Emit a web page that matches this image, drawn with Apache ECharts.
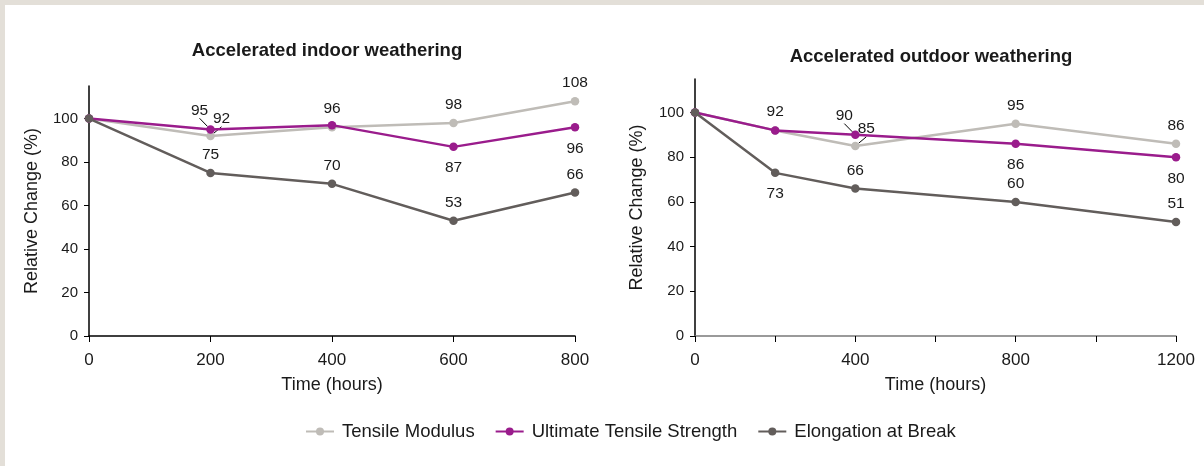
<!DOCTYPE html>
<html>
<head>
<meta charset="utf-8">
<script src="https://cdn.jsdelivr.net/npm/echarts@6/dist/echarts.min.js"></script>
<style>
html,body{margin:0;padding:0;}
#c{width:1204px;height:466px;
background:linear-gradient(#e3dfd8,#e3dfd8) top left/100% 5px no-repeat,linear-gradient(#e3dfd8,#e3dfd8) top left/5px 100% no-repeat,#ffffff;}
</style>
</head>
<body>
<div id="c"></div>
<script>
// ---- data ----
const seriesNames = ['Tensile Modulus', 'Ultimate Tensile Strength', 'Elongation at Break'];
const indoorHours = [0, 200, 400, 600, 800];
const indoorModulus = [100, 92, 96, 98, 108];
const indoorStrength = [100, 95, 97, 87, 96];
const indoorElongation = [100, 75, 70, 53, 66];
const outdoorHours = [0, 200, 400, 800, 1200];
const outdoorModulus = [100, 92, 85, 95, 86];
const outdoorStrength = [100, 92, 90, 86, 80];
const outdoorElongation = [100, 73, 66, 60, 51];
const yTickValues = [0, 20, 40, 60, 80, 100];
const indoorXTicks = [0, 200, 400, 600, 800];
const outdoorXTicks = [0, 200, 400, 600, 800, 1000, 1200];
const outdoorXLabels = [0, 400, 800, 1200];

// ---- label placement (style, not data) ----
// 'h' = hidden, 't' = top, 'b' = bottom, 'tl'/'tr' = top, shifted, with leader line
const indoorPlace = [
  ['h', 'tr', 't', 't', 't'],
  ['h', 'tl', 'h', 'b', 'b'],
  ['h', 't', 't', 't', 't']
];
const outdoorPlace = [
  ['h', 'h', 'tr', 't', 't'],
  ['h', 't', 'tl', 'b', 'b'],
  ['h', 'b', 't', 't', 't']
];

const colors = ['#bfbcb7', '#9a1c8c', '#625d5b'];
const font = 'Liberation Sans, Arial, sans-serif';
const txt = '#1a1a1a';

function pts(xs, ys) { return xs.map((x, i) => [x, ys[i]]); }

function makeSeries(idx, name, xs, ys, places, gridIdx) {
  return {
    name: name,
    type: 'line',
    xAxisIndex: gridIdx,
    yAxisIndex: gridIdx,
    data: pts(xs, ys).map((p, i) => {
      const pl = places[i];
      const lbl = { show: pl !== 'h' };
      if (pl === 'b') { lbl.position = 'bottom'; lbl.distance = 9; }
      else lbl.position = 'top';
      const item = { value: p, label: lbl };
      item.labelLine = { show: pl === 'tl' || pl === 'tr' };
      return item;
    }),
    symbol: 'circle',
    symbolSize: 8.5,
    lineStyle: { width: 2.5, color: colors[idx] },
    itemStyle: { color: colors[idx] },
    label: { fontFamily: font, fontSize: 15.5, color: txt, distance: 6, formatter: (p) => p.value[1] },
    labelLine: { show: false, lineStyle: { color: '#000', width: 1 } },
    labelLayout: function (params) {
      const pl = places[params.dataIndex];
      if (pl === 'tl') return { dx: -11, dy: -1 };
      if (pl === 'tr') return { dx: 11, dy: 1 };
      return {};
    },
    emphasis: { disabled: true },
    animation: false,
    z: 2 + idx
  };
}

function yAxisCfg(gridIdx, gap) {
  return {
    type: 'value', gridIndex: gridIdx, min: 0, max: 115,
    name: 'Relative Change (%)', nameLocation: 'middle', nameGap: gap,
    nameTextStyle: { fontFamily: font, fontSize: 18, color: txt },
    axisLine: { show: true, lineStyle: { color: '#000', width: 1.5 } },
    axisTick: { show: true, length: 5, customValues: yTickValues, lineStyle: { color: '#000' } },
    axisLabel: { customValues: yTickValues, fontFamily: font, fontSize: 15, color: txt, margin: 11 },
    splitLine: { show: false }
  };
}

function xAxisCfg(gridIdx, max, ticks, labels, lineColor) {
  return {
    type: 'value', gridIndex: gridIdx, min: 0, max: max,
    name: 'Time (hours)', nameLocation: 'middle', nameGap: 40,
    nameTextStyle: { fontFamily: font, fontSize: 18, color: txt },
    axisLine: { show: true, onZero: false, lineStyle: { color: lineColor, width: 1.5 } },
    axisTick: { show: true, length: 6, customValues: ticks, lineStyle: { color: '#000' } },
    axisLabel: { customValues: labels, fontFamily: font, fontSize: 17, color: txt, margin: 16,
      formatter: (v) => String(v) },
    splitLine: { show: false }
  };
}

const chart = echarts.init(document.getElementById('c'), null, { renderer: 'canvas' });
const series = [];
[indoorModulus, indoorStrength, indoorElongation].forEach((ys, i) =>
  series.push(makeSeries(i, seriesNames[i], indoorHours, ys, indoorPlace[i], 0)));
[outdoorModulus, outdoorStrength, outdoorElongation].forEach((ys, i) =>
  series.push(makeSeries(i, seriesNames[i], outdoorHours, ys, outdoorPlace[i], 1)));

chart.setOption({
  animation: false,
  title: [
    { text: 'Accelerated indoor weathering', left: 322, top: 36, textAlign: 'center',
      textStyle: { fontFamily: font, fontSize: 18.5, fontWeight: 'bold', color: txt } },
    { text: 'Accelerated outdoor weathering', left: 926, top: 42, textAlign: 'center',
      textStyle: { fontFamily: font, fontSize: 18.5, fontWeight: 'bold', color: txt } }
  ],
  legend: {
    data: seriesNames, top: 417, left: 300, itemGap: 20, itemWidth: 28, itemHeight: 10,
    textStyle: { fontFamily: font, fontSize: 18.5, color: txt, padding: [0, 0, 0, 3] }
  },
  grid: [
    { left: 89, top: 86, width: 486, height: 250 },
    { left: 695, top: 79, width: 481, height: 257 }
  ],
  xAxis: [
    xAxisCfg(0, 800, indoorXTicks, indoorXTicks, '#000'),
    xAxisCfg(1, 1200, outdoorXTicks, outdoorXLabels, '#7a7a7a')
  ],
  yAxis: [yAxisCfg(0, 48), yAxisCfg(1, 49)],
  series: series
});
</script>
</body>
</html>
